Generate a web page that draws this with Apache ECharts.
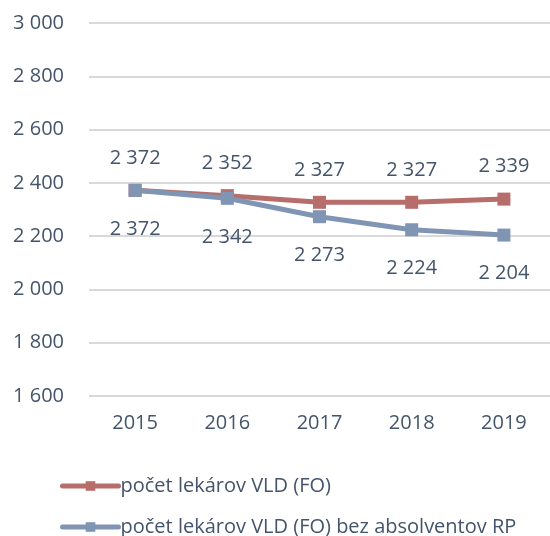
<!DOCTYPE html>
<html><head><meta charset="utf-8">
<script src="https://cdn.jsdelivr.net/npm/echarts@6/dist/echarts.min.js"></script>
<style>html,body{margin:0;padding:0;background:#fff}#c{width:550px;height:536px}</style>
</head><body><div id="c"></div>
<script>
const categories = ['2015','2016','2017','2018','2019'];
const seriesNames = ['počet lekárov VLD (FO)','počet lekárov VLD (FO) bez absolventov RP'];
const valuesFO = [2372, 2352, 2327, 2327, 2339];
const valuesBezRP = [2372, 2342, 2273, 2224, 2204];
const yTicks = [1600, 1800, 2000, 2200, 2400, 2600, 2800, 3000];

const txt = '#44546a';
const font = '"Open Sans", "Noto Sans", sans-serif';
const fs = 20;
const fmt = v => String(v).replace(/\B(?=(\d{3})+(?!\d))/g, ' ');
const legendBase = {
  orient: 'vertical', left: 55, itemGap: 4,
  itemWidth: 56, itemHeight: 12,
  lineStyle: {width: 5, cap: 'round'},
  textStyle: {color: txt, fontSize: fs, fontFamily: font, padding: [0,0,0,-3]},
};
const chart = echarts.init(document.getElementById('c'));
chart.setOption({
  animation: false,
  textStyle: {fontFamily: font},
  grid: {left: 89, right: -4, top: 23, bottom: 140},
  legend: [
    Object.assign({}, legendBase, {top: 471, data: [seriesNames[0]]}),
    Object.assign({}, legendBase, {top: 512, data: [seriesNames[1]]})
  ],
  xAxis: {
    type: 'category', data: categories, boundaryGap: true,
    axisLine: {show: false}, axisTick: {show: false},
    axisLabel: {color: txt, fontSize: fs, margin: 17, fontFamily: font}
  },
  yAxis: {
    type: 'value', min: yTicks[0], max: yTicks[yTicks.length-1], interval: 200,
    axisLine: {show: false}, axisTick: {show: false},
    axisLabel: {color: txt, fontSize: fs, margin: 25, fontFamily: font, formatter: fmt},
    splitLine: {lineStyle: {color: '#d9d9d9', width: 2}}
  },
  series: [
    {
      name: seriesNames[0], type: 'line', data: valuesFO,
      symbol: 'rect', symbolSize: 13,
      lineStyle: {color: '#b76e6b', width: 5},
      itemStyle: {color: '#b76e6b'},
      label: {show: true, position: 'top', distance: 16, color: txt, fontSize: fs, fontFamily: font, formatter: p => fmt(p.value)},
      z: 2
    },
    {
      name: seriesNames[1], type: 'line', data: valuesBezRP,
      symbol: 'rect', symbolSize: 13,
      lineStyle: {color: '#8095b3', width: 5},
      itemStyle: {color: '#8095b3'},
      label: {show: true, position: 'bottom', distance: 22, color: txt, fontSize: fs, fontFamily: font, formatter: p => fmt(p.value)},
      z: 3
    }
  ]
});
</script></body></html>
